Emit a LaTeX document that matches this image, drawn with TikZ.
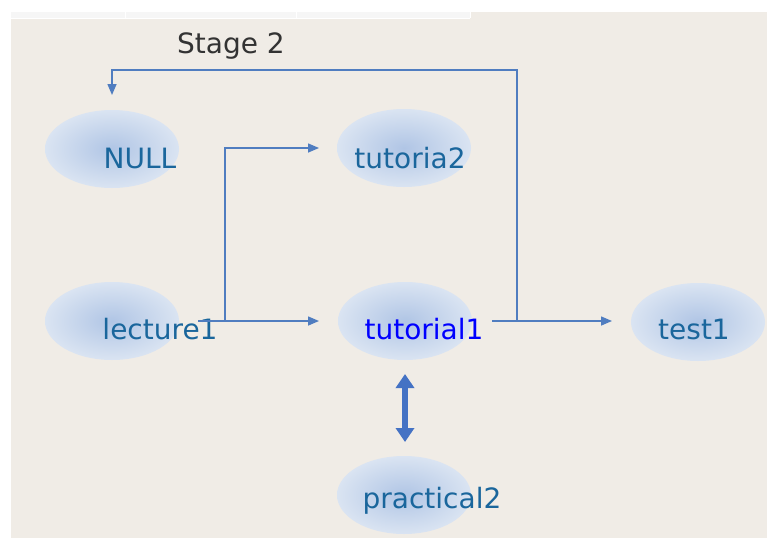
\documentclass[tikz,border=0pt]{standalone}
\usepackage{fontspec}
\setmainfont{DejaVu Sans}
\usetikzlibrary{shapes.geometric,arrows.meta}
\definecolor{bg}{RGB}{240,236,230}
\definecolor{strip}{RGB}{246,246,246}
\definecolor{ein}{RGB}{176,197,229}
\definecolor{eout}{RGB}{218,228,242}
\definecolor{lbl}{RGB}{26,102,156}
\definecolor{conn}{RGB}{80,125,192}
\definecolor{thick}{RGB}{68,114,196}
\definecolor{stagec}{RGB}{51,51,51}
\tikzset{
  blob/.style={ellipse, minimum width=134pt, minimum height=78pt, inner sep=0pt,
    shading=radial, inner color=ein, outer color=eout, draw=none},
  lbltext/.style={anchor=base, text=lbl, font=\fontsize{28}{32}\selectfont, inner sep=0pt},
  conline/.style={draw=conn, line width=1.5pt},
  conarrow/.style={conline, -{Triangle[length=11pt,width=9pt]}},
}
\begin{document}
\begin{tikzpicture}[x=1pt,y=-1pt]
\useasboundingbox (0,0) rectangle (767,538);
\fill[white] (0,0) rectangle (767,538);
\fill[bg] (11,12) rectangle (767,538);
\fill[strip] (11,12) rectangle (470,18);
\draw[white, line width=0.8pt] (11,18) -- (470,18) (125,12) -- (125,18) (296,12) -- (296,18) (470,12) -- (470,18);

% ellipses
\node[blob] (nullE) at (112,149) {};
\node[blob] (tut2E) at (404,148) {};
\node[blob] (lecE) at (112,321) {};
\node[blob] (tut1E) at (405,321) {};
\node[blob] (testE) at (698,322) {};
\node[blob] (pracE) at (404,495) {};

% labels
\node[anchor=base, text=stagec, font=\fontsize{28}{32}\selectfont, inner sep=0pt] (stage) at (231,53) {Stage 2};
\node[lbltext] (nullT) at (140,168) {NULL};
\node[lbltext] (tut2T) at (410,168) {tutoria2};
\node[lbltext] (lecT) at (160,339) {lecture1};
\node[lbltext, text=blue] (tut1T) at (424,339) {tutorial1};
\node[lbltext] (testT) at (694,339) {test1};
\node[lbltext] (pracT) at (432,508) {practical2};

% connector coordinates
\coordinate (lecOut) at (198,321);
\coordinate (lecBr) at (225,321);
\coordinate (lecUp) at (225,148);
\coordinate (tut2In) at (319,148);
\coordinate (tut1In) at (319,321);
\coordinate (tut1Out) at (492,321);
\coordinate (tut1Br) at (517,321);
\coordinate (loopR) at (517,70);
\coordinate (loopL) at (112,70);
\coordinate (nullIn) at (112,95);
\coordinate (testIn) at (612,321);
\coordinate (dblTop) at (405,374);
\coordinate (dblBot) at (405,442);

\draw[conarrow] (lecOut) -- (tut1In);
\draw[conarrow] (lecBr) -- (lecUp) -- (tut2In);
\draw[conarrow] (tut1Out) -- (testIn);
\draw[conarrow] (tut1Br) -- (loopR) -- (loopL) -- (nullIn);
\draw[draw=thick, line width=5.5pt, {Triangle[length=14pt,width=18pt]}-{Triangle[length=14pt,width=18pt]}] (dblTop) -- (dblBot);
\end{tikzpicture}
\end{document}
